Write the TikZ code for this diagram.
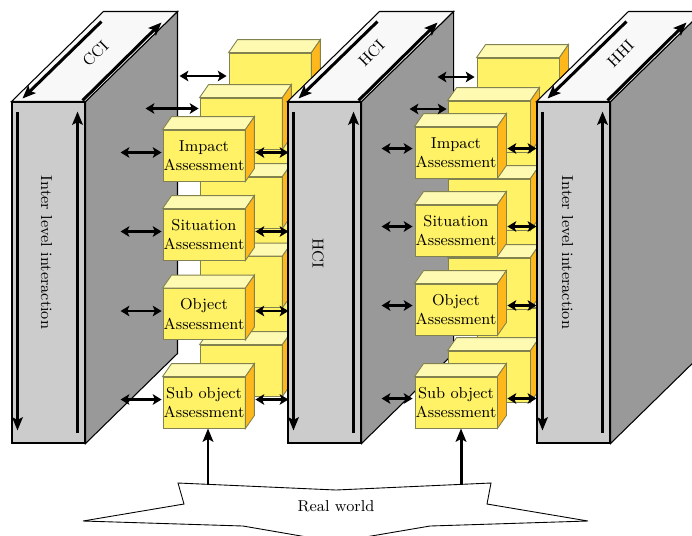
\documentclass[tikz,border=0pt]{standalone}
\usetikzlibrary{arrows.meta}

\definecolor{slabfront}{RGB}{204,204,204}
\definecolor{slabside}{RGB}{153,153,153}
\definecolor{slabtop}{RGB}{248,248,248}
\definecolor{cubefront}{RGB}{255,242,102}
\definecolor{cubetop}{RGB}{255,250,178}
\definecolor{cubeside}{RGB}{255,184,28}
\definecolor{cubeline}{RGB}{130,130,80}

\tikzset{
    slab/.style={draw, fill=slabfront, line width=0.6pt, minimum width=1.46cm, minimum height=6.82cm, inner sep=0pt},
    cube/.style={draw=cubeline, fill=cubefront, line width=0.5pt, minimum width=1.64cm, minimum height=1.02cm, inner sep=0pt, align=center, font=\small},
    biarrow/.style={{Stealth[length=5pt,width=6pt,inset=1.2pt]}-{Stealth[length=5pt,width=6pt,inset=1.2pt]}, line width=1.4pt},
    thickarrow/.style={-{Stealth[length=7.5pt,width=6pt,inset=1.5pt]}, line width=1.7pt},
    slablabel/.style={font=\small, inner sep=0pt}
}

\newcommand{\slabfaces}[1]{%
    \draw[fill=slabside, line width=0.6pt] (#1.north east) -- ++(92,-90) -- ([shift={(92,-90)}]#1.south east) -- (#1.south east) -- cycle;
    \draw[fill=slabtop, line width=0.6pt] (#1.north west) -- ++(92,-90) -- ([shift={(92,-90)}]#1.north east) -- (#1.north east) -- cycle;
    \draw[thickarrow] ([shift={(90,-80)}]#1.north west) -- ([shift={(11,-3)}]#1.north west);
    \draw[thickarrow] ([shift={(-3,-1)}]#1.north east) -- ([shift={(76,-79)}]#1.north east);
    \draw[thickarrow] ([shift={(6,10)}]#1.north west) -- ([shift={(6,-13)}]#1.south west);
    \draw[thickarrow] ([shift={(-8,-11)}]#1.south east) -- ([shift={(-8,10)}]#1.north east);
}

\newcommand{\cubefaces}[1]{%
    \draw[draw=cubeline, fill=cubetop, line width=0.5pt] (#1.north west) -- ++(9,-13) -- ([shift={(9,-13)}]#1.north east) -- (#1.north east) -- cycle;
    \draw[draw=cubeline, fill=cubeside, line width=0.5pt] (#1.north east) -- ++(9,-13) -- ([shift={(9,-13)}]#1.south east) -- (#1.south east) -- cycle;
}

\begin{document}
\begin{tikzpicture}[x=0.02cm, y=-0.02cm]
    \clip (0,0) rectangle (692,535);
    \useasboundingbox (0,0) rectangle (692,535);

    % left panel
    \node[slab] (cci) at (48.5,272.5) {};
    \slabfaces{cci}
    \node[slablabel, rotate=45] at ([shift={(47,-48)}]cci.north) {CCI};
    \node[slablabel, rotate=-90] at ([shift={(-2,-20)}]cci.center) {Inter level interaction};

    % first stack
    \foreach \y [count=\i] in {78.5,157.5,237,325.5} {
        \node[cube] (ca\i) at (270,\y) {};
        \cubefaces{ca\i}
    }
    \foreach \y [count=\i] in {123.5,202.5,282,370.5} {
        \node[cube] (cb\i) at (241,\y) {};
        \cubefaces{cb\i}
    }
    \node[cube] (imp1) at (204,155.5) {Impact\\Assessment};
    \cubefaces{imp1}
    \node[cube] (sit1) at (204,234.5) {Situation\\Assessment};
    \cubefaces{sit1}
    \node[cube] (obj1) at (204,314) {Object\\Assessment};
    \cubefaces{obj1}
    \node[cube] (sub1) at (204,402.5) {Sub object\\Assessment};
    \cubefaces{sub1}

    \foreach \n in {imp1,sit1,obj1,sub1} {
        \draw[biarrow] ([shift={(-1,-3)}]\n.west) -- ++(-41,0);
        \draw[biarrow] ([shift={(10,-3)}]\n.east) -- ++(33,0);
    }
    \draw[biarrow] ([shift={(-2,-2.5)}]ca1.west) -- ++(-47,0);
    \draw[biarrow] ([shift={(-1,-15)}]cb1.west) -- ++(-53,0);

    % middle panel
    \node[slab] (hci) at (324.5,272.5) {};
    \slabfaces{hci}
    \node[slablabel, rotate=45] at ([shift={(47,-48)}]hci.north) {HCI};
    \node[slablabel, rotate=-90] at ([shift={(-6.5,-19.5)}]hci.center) {HCI};

    % second stack
    \foreach \y [count=\i] in {83.5,161.5,240.5,333.5} {
        \node[cube] (da\i) at (518,\y) {};
        \cubefaces{da\i}
    }
    \foreach \y [count=\i] in {126.5,204.5,283.5,376.5} {
        \node[cube] (db\i) at (489,\y) {};
        \cubefaces{db\i}
    }
    \node[cube] (imp2) at (456,152.5) {Impact\\Assessment};
    \cubefaces{imp2}
    \node[cube] (sit2) at (456,230.5) {Situation\\Assessment};
    \cubefaces{sit2}
    \node[cube] (obj2) at (456,309.5) {Object\\Assessment};
    \cubefaces{obj2}
    \node[cube] (sub2) at (456,402.5) {Sub object\\Assessment};
    \cubefaces{sub2}

    \foreach \n in {imp2,sit2,obj2,sub2} {
        \draw[biarrow] ([shift={(-2,-4)}]\n.west) -- ++(-31,0);
        \draw[biarrow] ([shift={(10,-4)}]\n.east) -- ++(29,0);
    }
    \draw[biarrow] ([shift={(-2,-6.5)}]da1.west) -- ++(-37,0);
    \draw[biarrow] ([shift={(-1,-17.5)}]db1.west) -- ++(-37,0);

    % right panel
    \node[slab] (hhi) at (573.5,272.5) {};
    \slabfaces{hhi}
    \node[slablabel, rotate=45] at ([shift={(47,-48)}]hhi.north) {HHI};
    \node[slablabel, rotate=-90] at ([shift={(-6,-20)}]hhi.center) {Inter level interaction};

    % real world
    \draw[fill=white, line width=0.5pt] (178,483) -- (336,490) -- (491,483) -- (487,504) -- (588,521) -- (430,526) -- (336,542) -- (243,526) -- (83,521) -- (184,504) -- cycle;
    \node[font=\small] (world) at (336,506) {Real world};
    \coordinate (w1) at (208,484.5);
    \coordinate (w2) at (461,484.5);
    \draw[thickarrow] (w1) -- (w1 |- sub1.south);
    \draw[thickarrow] (w2) -- (w2 |- sub2.south);
\end{tikzpicture}
\end{document}
